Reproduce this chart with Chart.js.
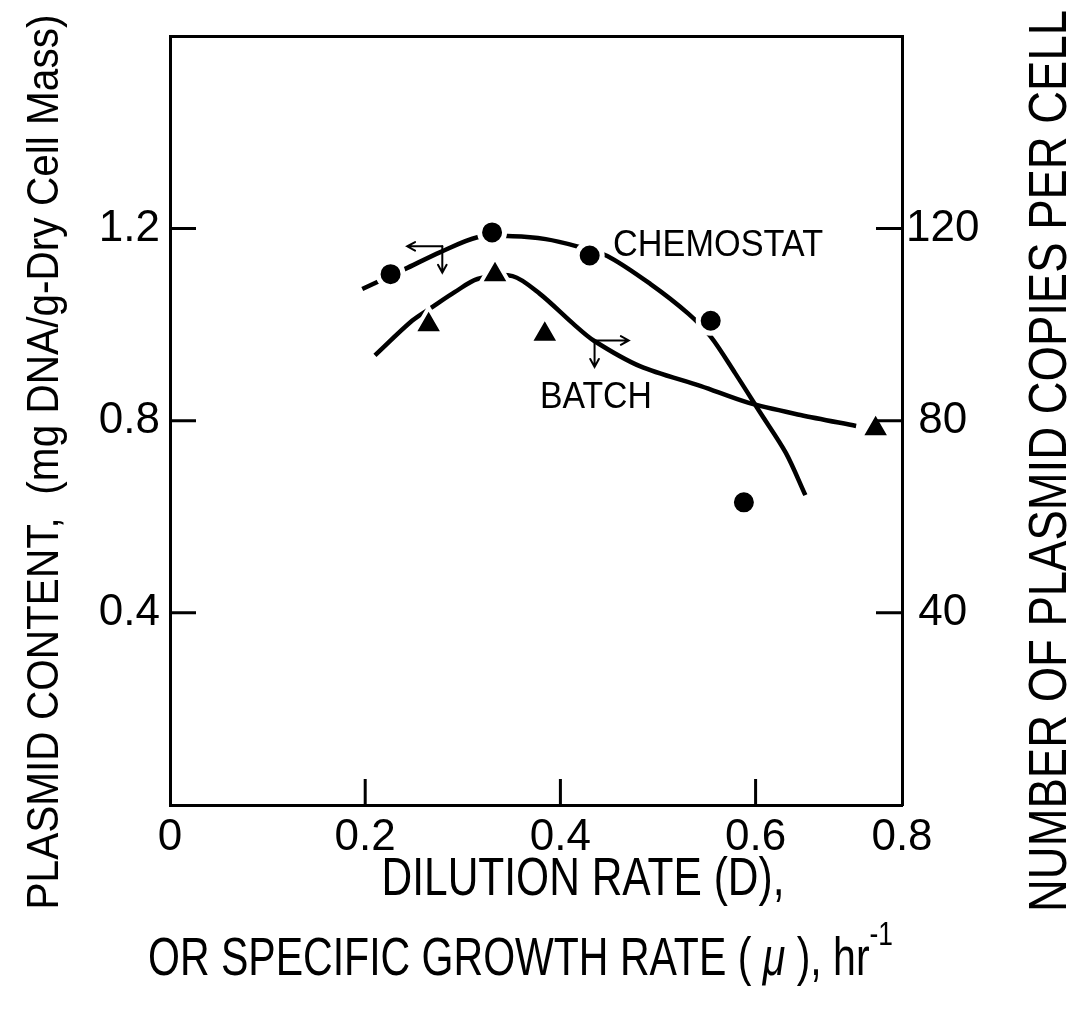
<!DOCTYPE html>
<html>
<head>
<meta charset="utf-8">
<script src="https://cdn.jsdelivr.net/npm/chart.js@4.4.1/dist/chart.umd.min.js"></script>
<style>
  html, body { margin: 0; background: #fff; }
</style>
</head>
<body>
<canvas id="c" width="1074" height="1018"></canvas>
<script>
// measured points (dilution rate, mg DNA / g dry cell mass)
const chemoX = [0.226, 0.330, 0.430, 0.554, 0.588];
const chemoY = [1.105, 1.192, 1.144, 1.008, 0.630];
const batchX = [0.265, 0.333, 0.384, 0.723];
const batchY = [1.000, 1.104, 0.980, 0.783];

// hand drawn fitted curves
const chemoCurveX = [0.197, 0.241, 0.277, 0.315, 0.351, 0.385, 0.417, 0.448, 0.492, 0.531, 0.554, 0.579, 0.605, 0.631, 0.651];
const chemoCurveY = [1.074, 1.116, 1.151, 1.182, 1.184, 1.178, 1.163, 1.143, 1.085, 1.023, 0.975, 0.899, 0.816, 0.733, 0.645];
const batchCurveX = [0.210, 0.248, 0.269, 0.292, 0.315, 0.351, 0.379, 0.413, 0.434, 0.482, 0.544, 0.593, 0.646, 0.703];
const batchCurveY = [0.936, 1.008, 1.037, 1.068, 1.095, 1.101, 1.064, 1.002, 0.967, 0.913, 0.872, 0.837, 0.812, 0.789];

const xTicks = [0, 0.2, 0.4, 0.6, 0.75];
const xTickLabels = ['0', '0.2', '0.4', '0.6', '0.8'];
const leftTicks = [0.4, 0.8, 1.2];
const rightTicks = [40, 80, 120];

// axis-pointer arrows [x1, y1, x2, y2], head at the second end
const arrows = [
  [0.279, 1.163, 0.243, 1.163],
  [0.279, 1.163, 0.279, 1.108],
  [0.435, 0.967, 0.470, 0.967],
  [0.435, 0.967, 0.435, 0.912]
];
const curveLabels = ['CHEMOSTAT', 'BATCH'];
const labelX = [0.454, 0.379];
const labelY = [1.143, 0.826];

const FONT = '"Liberation Sans", Arial, sans-serif';
const tickFont = { family: FONT, size: 44 };

function pts(xs, ys) {
  return xs.map((x, i) => ({ x: x, y: ys[i] }));
}

function fitText(ctx, text, x, y, w, size, rot) {
  ctx.save();
  ctx.translate(x, y);
  ctx.rotate(rot);
  ctx.font = size + 'px ' + FONT;
  const m = ctx.measureText(text).width;
  ctx.scale(w / m, 1);
  ctx.textAlign = 'center';
  ctx.textBaseline = 'alphabetic';
  ctx.fillText(text, 0, 0);
  ctx.restore();
}

function arrow(ctx, x1, y1, x2, y2) {
  const a = Math.atan2(y2 - y1, x2 - x1);
  const h = 9;
  ctx.beginPath();
  ctx.moveTo(x1, y1);
  ctx.lineTo(x2, y2);
  ctx.moveTo(x2 - h * Math.cos(a - 0.5), y2 - h * Math.sin(a - 0.5));
  ctx.lineTo(x2, y2);
  ctx.lineTo(x2 - h * Math.cos(a + 0.5), y2 - h * Math.sin(a + 0.5));
  ctx.stroke();
}

const decorations = {
  id: 'decorations',
  afterDraw(chart) {
    const ctx = chart.ctx;
    const { x, y, y2 } = chart.scales;
    const a = chart.chartArea;
    ctx.save();
    ctx.strokeStyle = '#000';
    ctx.fillStyle = '#000';

    // inward tick marks
    ctx.lineWidth = 3;
    ctx.beginPath();
    xTicks.slice(1, 4).forEach(v => {
      const px = x.getPixelForValue(v);
      ctx.moveTo(px, a.bottom); ctx.lineTo(px, a.bottom - 26);
    });
    leftTicks.forEach(v => {
      const py = y.getPixelForValue(v);
      ctx.moveTo(a.left, py); ctx.lineTo(a.left + 26, py);
    });
    rightTicks.forEach(v => {
      const py = y2.getPixelForValue(v);
      ctx.moveTo(a.right, py); ctx.lineTo(a.right - 26, py);
    });
    ctx.stroke();

    // arrows telling which axis each curve belongs to
    ctx.lineWidth = 2;
    ctx.lineCap = 'round';
    arrows.forEach(r => arrow(ctx, x.getPixelForValue(r[0]), y.getPixelForValue(r[1]),
                                   x.getPixelForValue(r[2]), y.getPixelForValue(r[3])));

    // curve labels
    const lw = [210, 112];
    curveLabels.forEach((t, i) => {
      const px = x.getPixelForValue(labelX[i]);
      const py = y.getPixelForValue(labelY[i]);
      fitText(ctx, t, px + lw[i] / 2, py, lw[i], 37, 0);
    });

    // axis titles
    fitText(ctx, 'PLASMID CONTENT,  (mg DNA/g-Dry Cell Mass)', 58, 462, 895, 45, -Math.PI / 2);
    fitText(ctx, 'NUMBER OF PLASMID COPIES PER CELL', 1066, 461, 902, 53, -Math.PI / 2);
    fitText(ctx, 'DILUTION RATE (D),', 583, 895, 403, 53, 0);

    // second line with italic mu and superscript
    const parts = [
      { t: 'OR SPECIFIC GROWTH RATE ( ', f: '53px ' + FONT, dy: 0 },
      { t: '\u03bc', f: 'italic 53px ' + FONT, dy: 0 },
      { t: ' ), hr', f: '53px ' + FONT, dy: 0 },
      { t: '-1', f: '34px ' + FONT, dy: -30 }
    ];
    let total = 0;
    parts.forEach(p => { ctx.font = p.f; p.w = ctx.measureText(p.t).width; total += p.w; });
    const sc = (893 - 148) / total;
    ctx.save();
    ctx.translate(148, 975);
    ctx.scale(sc, 1);
    ctx.textAlign = 'left';
    ctx.textBaseline = 'alphabetic';
    let cx = 0;
    parts.forEach(p => { ctx.font = p.f; ctx.fillText(p.t, cx, p.dy); cx += p.w; });
    ctx.restore();

    ctx.restore();
  }
};

new Chart(document.getElementById('c'), {
  type: 'scatter',
  data: {
    datasets: [
      {
        label: 'Chemostat',
        data: pts(chemoX, chemoY),
        pointStyle: 'circle',
        pointRadius: 12.5,
        pointBackgroundColor: '#000',
        pointBorderColor: '#fff',
        pointBorderWidth: 5,
        order: 0
      },
      {
        label: 'Batch',
        data: pts(batchX, batchY),
        pointStyle: 'triangle',
        pointRadius: 17,
        pointBackgroundColor: '#000',
        pointBorderColor: '#fff',
        pointBorderWidth: 4,
        order: 0
      },
      {
        label: 'Chemostat curve',
        data: pts(chemoCurveX, chemoCurveY),
        showLine: true,
        borderColor: '#000',
        borderWidth: 4.5,
        tension: 0.3,
        pointRadius: 0,
        order: 1
      },
      {
        label: 'Batch curve',
        data: pts(batchCurveX, batchCurveY),
        showLine: true,
        borderColor: '#000',
        borderWidth: 4.5,
        tension: 0.3,
        pointRadius: 0,
        order: 1
      }
    ]
  },
  options: {
    responsive: false,
    animation: false,
    devicePixelRatio: 1,
    layout: { padding: 0 },
    plugins: { legend: { display: false }, tooltip: { enabled: false } },
    scales: {
      x: {
        type: 'linear', position: 'bottom', min: 0, max: 0.75,
        afterBuildTicks: s => { s.ticks = xTicks.map(v => ({ value: v })); },
        ticks: { callback: (v, i) => xTickLabels[i], font: tickFont, color: '#000', padding: 6, maxRotation: 0, autoSkip: false },
        grid: { display: false, drawTicks: false },
        border: { color: '#000', width: 3 },
        afterFit: s => { s.height = 213; }
      },
      xTop: {
        type: 'linear', position: 'top', min: 0, max: 0.75,
        ticks: { display: false },
        grid: { display: false, drawTicks: false },
        border: { color: '#000', width: 3 },
        afterFit: s => { s.height = 31; }
      },
      y: {
        type: 'linear', position: 'left', min: 0, max: 1.6,
        afterBuildTicks: s => { s.ticks = leftTicks.map(v => ({ value: v })); },
        ticks: { callback: v => v.toFixed(1), font: tickFont, color: '#000', padding: 10 },
        grid: { display: false, drawTicks: false },
        border: { color: '#000', width: 3 },
        afterFit: s => { s.width = 170; }
      },
      y2: {
        type: 'linear', position: 'right', min: 0, max: 160,
        afterBuildTicks: s => { s.ticks = rightTicks.map(v => ({ value: v })); },
        ticks: { font: tickFont, color: '#000', padding: 4, crossAlign: 'center' },
        grid: { display: false, drawTicks: false },
        border: { color: '#000', width: 3 },
        afterFit: s => { s.width = 172; }
      }
    }
  },
  plugins: [decorations]
});
</script>
</body>
</html>
